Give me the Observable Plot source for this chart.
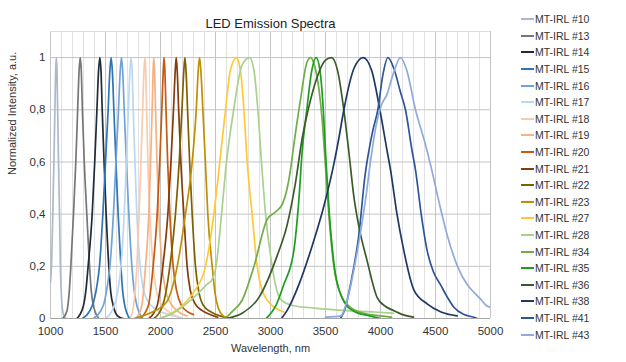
<!DOCTYPE html>
<html>
<head>
<meta charset="utf-8">
<script src="https://cdn.jsdelivr.net/npm/d3@7"></script>
<script src="https://cdn.jsdelivr.net/npm/@observablehq/plot@0.6"></script>
<style>
  body { margin: 0; background: #fff; }
  #wrap { position: relative; width: 626px; height: 362px; font-family: "Liberation Sans", Arial, sans-serif; }
  #legend { position: absolute; left: 521px; top: 11px; }
  .row { display: flex; align-items: center; height: 16.6px; font-size: 10.5px; color: #333; white-space: nowrap; }
  .sw { width: 13px; height: 2px; margin-right: 1px; }
</style>
</head>
<body>
<div id="wrap"><div id="chart"></div><div id="legend"></div></div>
<script>
const title = "LED Emission Spectra";
const xLabel = "Wavelength, nm";
const yLabel = "Normalized Intensity, a.u.";
const xTicks = [1000, 1500, 2000, 2500, 3000, 3500, 4000, 4500, 5000];
const xMinor = d3.range(1000, 5001, 100);
const yTicks = [0, 0.2, 0.4, 0.6, 0.8, 1];
const yTickLabels = ["0", "0,2", "0,4", "0,6", "0,8", "1"];

const names = ["MT-IRL #10","MT-IRL #13","MT-IRL #14","MT-IRL #15","MT-IRL #16","MT-IRL #17","MT-IRL #18","MT-IRL #19","MT-IRL #20","MT-IRL #21","MT-IRL #22","MT-IRL #23","MT-IRL #27","MT-IRL #28","MT-IRL #34","MT-IRL #35","MT-IRL #36","MT-IRL #38","MT-IRL #41","MT-IRL #43"];
const colors = ["#adb9ca","#767676","#222a35","#2e75b6","#6fa3d8","#bdd7ee","#f8cbad","#f4b183","#c55a11","#843c0c","#7f6000","#bf9000","#ffc935","#a9d18e","#70ad47","#1e9e1e","#3b5a2a","#1f3864","#2f5597","#8faadc"];

const s10 = [[1000,0.14],[1009,0.2],[1021,0.4],[1031,0.6],[1040,0.8],[1047,0.95],[1053,1],[1059,0.95],[1065,0.8],[1073,0.6],[1082,0.4],[1090,0.2],[1100,0.08],[1115,0.02],[1140,0]];
const s13 = [[1110,0],[1150,0.03],[1170,0.1],[1185,0.2],[1209,0.4],[1230,0.6],[1247,0.8],[1260,0.95],[1270,1],[1280,0.95],[1290,0.8],[1307,0.6],[1330,0.4],[1355,0.2],[1372,0.1],[1395,0.04],[1440,0]];
const s14 = [[1240,0],[1300,0.05],[1325,0.12],[1342,0.2],[1379,0.4],[1402,0.6],[1422,0.8],[1437,0.95],[1448,1],[1459,0.95],[1470,0.8],[1487,0.6],[1506,0.4],[1530,0.2],[1548,0.1],[1570,0.05],[1610,0.01],[1660,0]];
const s15 = [[1290,0],[1380,0.05],[1420,0.12],[1445,0.2],[1476,0.4],[1500,0.6],[1524,0.8],[1540,0.95],[1551,1],[1562,0.95],[1576,0.8],[1595,0.6],[1615,0.4],[1640,0.2],[1655,0.11],[1675,0.05],[1720,0]];
const s16 = [[1390,0],[1480,0.05],[1515,0.12],[1540,0.2],[1572,0.4],[1595,0.6],[1618,0.8],[1634,0.95],[1645,1],[1656,0.95],[1670,0.8],[1690,0.6],[1712,0.4],[1740,0.2],[1760,0.11],[1785,0.05],[1840,0]];
const s17 = [[1500,0],[1580,0.05],[1610,0.1],[1640,0.2],[1670,0.4],[1690,0.6],[1708,0.8],[1722,0.95],[1732,1],[1742,0.95],[1752,0.8],[1768,0.6],[1785,0.4],[1815,0.2],[1840,0.12],[1880,0.07],[1960,0.035],[2080,0.015],[2190,0.003]];
const s18 = [[1725,0],[1755,0.05],[1785,0.2],[1805,0.4],[1822,0.6],[1838,0.8],[1850,0.95],[1858,1],[1866,0.95],[1874,0.8],[1885,0.6],[1903,0.4],[1933,0.2],[1960,0.11],[2000,0.06],[2060,0.03],[2150,0.008]];
const s19 = [[1775,0],[1830,0.05],[1864,0.2],[1894,0.4],[1910,0.6],[1924,0.8],[1933,0.95],[1939,1],[1946,0.95],[1955,0.8],[1968,0.6],[1985,0.4],[2015,0.2],[2045,0.11],[2090,0.06],[2150,0.03],[2240,0.01]];
const s20 = [[1815,0],[1890,0.05],[1933,0.2],[1970,0.4],[1993,0.6],[2012,0.8],[2025,0.95],[2032,1],[2040,0.95],[2050,0.8],[2065,0.6],[2085,0.4],[2115,0.2],[2145,0.11],[2190,0.05],[2250,0.025],[2300,0.015]];
const s21 = [[1895,0],[1970,0.05],[2021,0.2],[2067,0.4],[2095,0.6],[2118,0.8],[2134,0.95],[2143,1],[2152,0.95],[2165,0.8],[2185,0.6],[2212,0.4],[2242,0.2],[2270,0.11],[2310,0.06],[2380,0.03],[2450,0.015],[2520,0.005]];
const s22 = [[1940,0],[2020,0.05],[2085,0.2],[2136,0.4],[2170,0.6],[2195,0.8],[2212,0.95],[2222,1],[2232,0.95],[2246,0.8],[2265,0.6],[2288,0.4],[2318,0.2],[2345,0.11],[2390,0.05],[2460,0.025],[2540,0.01],[2610,0.003]];
const s23 = [[1760,0],[1900,0.02],[2050,0.06],[2152,0.2],[2227,0.4],[2288,0.6],[2325,0.8],[2343,0.95],[2355,1],[2367,0.95],[2385,0.8],[2408,0.6],[2430,0.4],[2470,0.2],[2495,0.1],[2525,0.04],[2570,0.01],[2620,0]];
const s27 = [[1990,0],[2100,0.02],[2200,0.05],[2300,0.1],[2409,0.2],[2485,0.4],[2539,0.6],[2591,0.8],[2635,0.95],[2690,1],[2730,0.94],[2758,0.8],[2788,0.6],[2833,0.4],[2879,0.2],[2915,0.12],[2955,0.08],[3030,0.045],[3120,0.025]];
const s28 = [[2000,0],[2150,0.03],[2300,0.08],[2420,0.13],[2470,0.15],[2505,0.2],[2555,0.4],[2600,0.6],[2665,0.8],[2740,0.97],[2810,1],[2850,0.95],[2885,0.8],[2918,0.6],[2955,0.4],[3015,0.2],[3050,0.12],[3100,0.07],[3200,0.05],[3400,0.04],[3700,0.03],[3950,0.025],[4120,0.02]];
const s34 = [[2590,0],[2660,0.03],[2742,0.07],[2850,0.2],[2970,0.38],[3050,0.41],[3110,0.44],[3182,0.57],[3210,0.66],[3273,0.84],[3330,0.98],[3364,1],[3400,0.97],[3440,0.88],[3470,0.76],[3500,0.58],[3530,0.4],[3576,0.2],[3640,0.09],[3720,0.045],[3850,0.02],[4000,0.01],[4100,0.005]];
const s35 = [[2960,0],[3050,0.05],[3121,0.13],[3212,0.26],[3257,0.45],[3288,0.64],[3330,0.8],[3375,0.95],[3415,1],[3450,0.95],[3480,0.8],[3505,0.6],[3535,0.4],[3580,0.2],[3650,0.08],[3750,0.03],[3900,0.01],[4000,0]];
const s36 = [[2600,0],[2742,0.02],[2894,0.08],[3060,0.24],[3152,0.36],[3227,0.52],[3288,0.69],[3348,0.81],[3420,0.92],[3500,0.99],[3555,1],[3610,0.95],[3660,0.82],[3712,0.64],[3760,0.46],[3800,0.36],[3879,0.22],[3970,0.08],[4050,0.045],[4121,0.03],[4200,0.015],[4300,0.005]];
const s38 = [[3100,0],[3150,0.03],[3258,0.13],[3380,0.28],[3485,0.43],[3580,0.6],[3621,0.69],[3667,0.8],[3760,0.96],[3842,1],[3920,0.95],[3994,0.8],[4061,0.64],[4091,0.57],[4150,0.4],[4212,0.26],[4303,0.11],[4424,0.056],[4550,0.025],[4697,0.01]];
const s41 = [[3636,0],[3680,0.04],[3727,0.13],[3803,0.32],[3860,0.55],[3885,0.62],[3930,0.72],[3976,0.8],[4020,0.93],[4067,1],[4120,0.96],[4180,0.87],[4227,0.8],[4288,0.64],[4318,0.57],[4370,0.4],[4424,0.26],[4480,0.18],[4545,0.13],[4610,0.08],[4667,0.043],[4760,0.015],[4848,0.005],[4880,0]];
const s43 = [[3500,0.005],[3640,0.01],[3697,0.07],[3790,0.26],[3862,0.45],[3915,0.62],[3960,0.74],[4010,0.82],[4060,0.86],[4110,0.93],[4182,1],[4240,0.95],[4318,0.8],[4400,0.68],[4460,0.58],[4530,0.45],[4606,0.32],[4700,0.2],[4788,0.13],[4850,0.1],[4909,0.075],[4960,0.05],[5000,0.043]];

const seriesData = [s10,s13,s14,s15,s16,s17,s18,s19,s20,s21,s22,s23,s27,s28,s34,s35,s36,s38,s41,s43];
const rows = seriesData.flatMap((pts, i) => pts.map(([w, v]) => ({name: names[i], w, v})));

const plot = Plot.plot({
  width: 626,
  height: 362,
  marginLeft: 50,
  marginRight: 136,
  marginTop: 31,
  marginBottom: 44,
  style: {fontFamily: '"Liberation Sans", Arial, sans-serif', fontSize: "11px", color: "#333", background: "#fff"},
  x: {domain: [1000, 5000]},
  y: {domain: [0, 1.1]},
  color: {domain: names, range: colors},
  marks: [
    Plot.ruleX(xMinor, {stroke: "#e2e2e2", strokeWidth: 1}),
    Plot.ruleX(xTicks, {stroke: "#c4c4c4", strokeWidth: 1}),
    Plot.ruleY([0.2, 0.4, 0.6, 0.8, 1], {stroke: "#c4c4c4", strokeWidth: 1}),
    Plot.ruleY([1.1], {stroke: "#dcdcdc", strokeWidth: 1}),
    Plot.ruleY([0], {stroke: "#a6a6a6", strokeWidth: 1}),
    Plot.line(rows, {x: "w", y: "v", z: "name", stroke: "name", curve: "monotone-x", strokeWidth: 1.7, clip: true}),
    Plot.axisX({ticks: xTicks, tickSize: 0, tickPadding: 8, tickFormat: d => `${d}`, label: null, fontSize: 11.5}),
    Plot.axisY({ticks: yTicks, tickSize: 0, tickPadding: 5, tickFormat: d => yTickLabels[yTicks.indexOf(d)], label: null, fontSize: 11.5}),
    Plot.text([title], {text: d => d, frameAnchor: "top", dy: -13, fontSize: 13, fill: "#222"}),
    Plot.text([xLabel], {text: d => d, frameAnchor: "bottom", dy: 33, fontSize: 11, fill: "#333"}),
    Plot.text([yLabel], {text: d => d, frameAnchor: "left", rotate: -90, dx: -38, fontSize: 11, fill: "#333"})
  ]
});
document.getElementById("chart").appendChild(plot);

const legend = document.getElementById("legend");
names.forEach((n, i) => {
  const row = document.createElement("div");
  row.className = "row";
  const sw = document.createElement("span");
  sw.className = "sw";
  sw.style.background = colors[i];
  const t = document.createElement("span");
  t.textContent = n;
  row.appendChild(sw);
  row.appendChild(t);
  legend.appendChild(row);
});
</script>
</body>
</html>
